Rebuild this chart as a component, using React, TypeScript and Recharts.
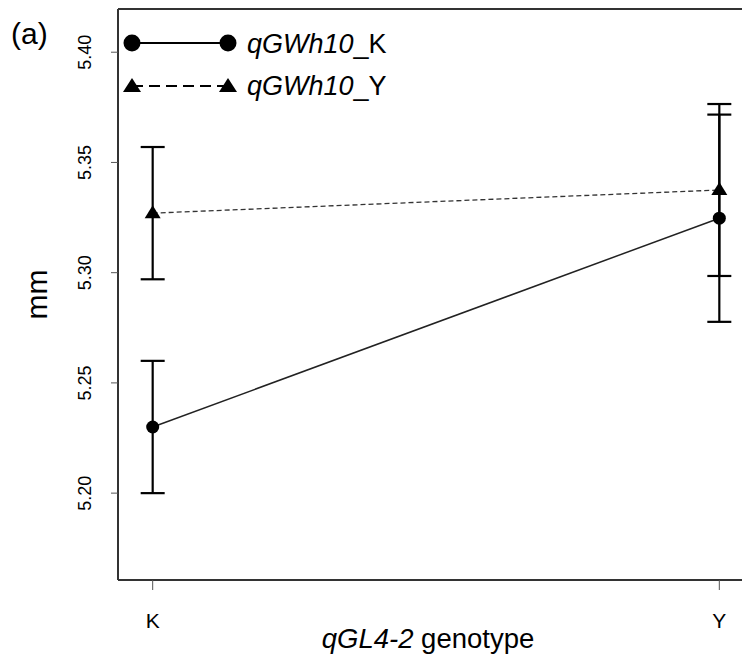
import React from 'react';
import { LineChart, Line, XAxis, YAxis, ErrorBar, ReferenceLine, Legend } from 'recharts';

const CATEGORIES = ['K', 'Y'];
const X_POS = [1, 2];
const K_MEAN = [5.23, 5.3247];
const K_ERR = [0.03, 0.047];
const Y_MEAN = [5.327, 5.3375];
const Y_ERR = [0.03, 0.039];
const Y_TICKS = [5.2, 5.25, 5.3, 5.35, 5.4];
const SERIES_NAMES = ['qGWh10', 'qGWh10'];
const SERIES_SUFFIX = ['_K', '_Y'];

const Y_DOMAIN: [number, number] = [5.1606, 5.4196];
const X_DOMAIN: [number, number] = [0.9388, 2.0612];

const FONT = '"Liberation Sans", Arial, Helvetica, sans-serif';

const data = X_POS.map((x, i) => ({
  x,
  kMean: K_MEAN[i],
  kErr: K_ERR[i],
  yMean: Y_MEAN[i],
  yErr: Y_ERR[i],
}));

const CircleDot = (props: any) => {
  const { cx, cy, index } = props;
  if (cx == null || cy == null) return <g key={index} />;
  return <circle key={index} cx={cx} cy={cy} r={6.5} fill="#000" />;
};

const TriangleDot = (props: any) => {
  const { cx, cy, index } = props;
  if (cx == null || cy == null) return <g key={index} />;
  return <polygon key={index} points={`${cx},${cy - 8} ${cx - 8},${cy + 5} ${cx + 8},${cy + 5}`} fill="#000" />;
};

const YTick = ({ x, y, payload }: any) => (
  <text
    x={x - 18}
    y={y}
    transform={`rotate(-90, ${x - 18}, ${y})`}
    textAnchor="middle"
    fontSize={18}
    fontFamily={FONT}
    fill="#000"
  >
    {payload.value.toFixed(2)}
  </text>
);

const XTick = ({ x, y, payload }: any) => (
  <text x={x} y={y + 36} textAnchor="middle" fontSize={21} fontFamily={FONT} fill="#000">
    {CATEGORIES[X_POS.indexOf(payload.value)]}
  </text>
);

// legend rows: line y and text baseline
const ROW_Y = [43, 86];
const ROW_BASE = [53, 95];

const LegendBox = () => (
  <svg width={440} height={110}>
    {[0, 1].map((i) => {
      const cy = ROW_Y[i];
      return (
        <g key={i}>
          <line x1={132} x2={228} y1={cy} y2={cy} stroke="#000" strokeWidth={2} strokeDasharray={i === 1 ? '11 6' : undefined} />
          {i === 0 ? (
            <>
              <circle cx={132} cy={cy} r={8.5} fill="#000" />
              <circle cx={228} cy={cy} r={8.5} fill="#000" />
            </>
          ) : (
            <>
              <polygon points={`132,${cy - 8} 123,${cy + 6} 141,${cy + 6}`} fill="#000" />
              <polygon points={`228,${cy - 8} 219,${cy + 6} 237,${cy + 6}`} fill="#000" />
            </>
          )}
          <text x={247} y={ROW_BASE[i]} fontSize={27} fontFamily={FONT} fill="#000">
            <tspan fontStyle="italic">{SERIES_NAMES[i]}</tspan>
            <tspan>{SERIES_SUFFIX[i]}</tspan>
          </text>
        </g>
      );
    })}
  </svg>
);

export default function App() {
  return (
    <div style={{ margin: -8, width: 750, height: 663, overflow: 'hidden', position: 'relative', background: '#fff' }}>
      <div style={{ position: 'absolute', left: 11, top: 17, fontSize: 30, lineHeight: '34px', fontFamily: FONT, color: '#000' }}>(a)</div>
      <LineChart width={790} height={663} data={data} margin={{ top: 9, right: 36, bottom: 0, left: 0 }}>
        <XAxis
          dataKey="x"
          type="number"
          domain={X_DOMAIN}
          ticks={X_POS}
          allowDataOverflow
          height={83}
          axisLine={{ stroke: '#333', strokeWidth: 2 }}
          tickLine={{ stroke: '#555', strokeWidth: 1 }}
          tickSize={10}
          tick={<XTick />}
          label={{
            content: ({ viewBox }: any) => (
              <text x={viewBox.x + viewBox.width / 2 - 8} y={648} textAnchor="middle" fontSize={27.5} fontFamily={FONT} fill="#000">
                <tspan fontStyle="italic">qGL4-2</tspan>
                <tspan> genotype</tspan>
              </text>
            ),
          }}
        />
        <YAxis
          type="number"
          domain={Y_DOMAIN}
          ticks={Y_TICKS}
          allowDataOverflow
          width={118}
          axisLine={{ stroke: '#333', strokeWidth: 2 }}
          tickLine={{ stroke: '#555', strokeWidth: 1 }}
          tickSize={7}
          tick={<YTick />}
          label={{
            content: ({ viewBox }: any) => {
              const cy = viewBox.y + viewBox.height / 2;
              return (
                <text x={47} y={cy} transform={`rotate(-90, 47, ${cy})`} textAnchor="middle" fontSize={30} fontFamily={FONT} fill="#000">
                  mm
                </text>
              );
            },
          }}
        />
        <ReferenceLine y={Y_DOMAIN[1]} stroke="#333" strokeWidth={2} />
        <ReferenceLine x={X_DOMAIN[1]} stroke="#333" strokeWidth={2} />
        <Line
          dataKey="yMean"
          stroke="#333"
          strokeWidth={1.3}
          strokeDasharray="5 3"
          dot={<TriangleDot />}
          activeDot={false}
          isAnimationActive={false}
        >
          <ErrorBar dataKey="yErr" width={12} stroke="#000" strokeWidth={2.2} isAnimationActive={false} />
        </Line>
        <Line
          dataKey="kMean"
          stroke="#222"
          strokeWidth={1.5}
          dot={<CircleDot />}
          activeDot={false}
          isAnimationActive={false}
        >
          <ErrorBar dataKey="kErr" width={12} stroke="#000" strokeWidth={2.2} isAnimationActive={false} />
        </Line>
        <Legend
          content={<LegendBox />}
          layout="horizontal"
          verticalAlign="middle"
          align="center"
          wrapperStyle={{ position: 'absolute', left: 0, top: 0, width: 440, height: 110 }}
        />
      </LineChart>
    </div>
  );
}
